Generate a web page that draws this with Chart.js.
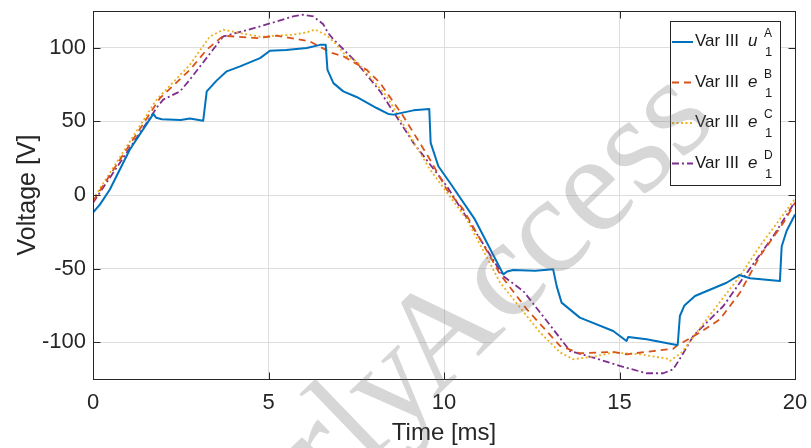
<!DOCTYPE html>
<html>
<head>
<meta charset="utf-8">
<script src="https://cdn.jsdelivr.net/npm/chart.js@4.4.0/dist/chart.umd.min.js"></script>
<style>
  html, body { margin: 0; padding: 0; background: #fff; }
  #wrap { position: relative; width: 811px; height: 448px; }
</style>
</head>
<body>
<div id="wrap"><canvas id="grafico" width="811" height="448"></canvas></div>
<script>
// valores (tempo em ms, tensão em V)
const tempoA = [0, 0.2, 0.48, 1.05, 1.72, 1.8, 1.96, 2.5, 2.76, 3.14, 3.24, 3.52, 3.81, 4.19, 4.76, 5.04, 5.5, 6.09, 6.47, 6.63, 6.68, 6.85, 7.13, 7.51, 8.08, 8.41, 8.56, 9.13, 9.58, 9.62, 9.84, 10.17, 10.88, 11.69, 11.8, 11.97, 12.6, 13.11, 13.21, 13.35, 13.87, 14.82, 15.2, 15.25, 15.77, 16.63, 16.66, 16.72, 16.85, 17.15, 18.05, 18.41, 18.72, 19.57, 19.62, 19.76, 20];
const tensaoA = [-12, -6.4, 3.7, 30.9, 55.1, 52.5, 51.5, 51, 51.9, 50.5, 70.4, 77.7, 84, 87.4, 93, 98, 98.5, 99.8, 102, 102, 85, 76, 70.4, 66.6, 59.1, 55.1, 54.6, 57.5, 58.5, 35.4, 19.5, 8.3, -16.6, -53.9, -52, -51, -51.5, -50.5, -61.9, -73.1, -83.3, -92.4, -99.2, -96.4, -98, -101.9, -101.4, -82.2, -75, -68.6, -59.6, -54.4, -56.6, -58.5, -35, -24.5, -13.2];

const tempoB = [0, 1.91, 2.76, 3.24, 3.71, 4.66, 5.23, 5.9, 6.18, 6.8, 7.13, 7.8, 8.18, 8.84, 9.6, 10.08, 10.55, 11.6, 12.36, 13.31, 13.87, 14.82, 15.2, 15.96, 16.53, 16.66, 17.29, 17.86, 18.43, 19, 19.67, 20];
const tensaoB = [-4.2, 65.9, 85, 98.7, 108.2, 106.6, 108.2, 105.5, 104.3, 96.5, 94.2, 85, 76.1, 53.5, 24.1, 3.7, -9.8, -53.9, -77.7, -102.6, -107.5, -106.6, -108.2, -106, -104.5, -102, -93.5, -84.5, -66.4, -41.5, -18.9, -5.3];

const tempoC = [0, 1.81, 2.76, 3.33, 3.71, 4.19, 4.76, 5.7, 6.1, 6.32, 6.66, 6.94, 7.22, 7.51, 8.37, 9.6, 10.65, 11.6, 12.74, 13.31, 13.68, 14.34, 14.82, 15.58, 16.34, 16.44, 16.77, 17.48, 18.43, 19, 19.95, 20];
const tensaoC = [-3, 64.8, 88.5, 107.7, 112.3, 110, 107.5, 108.9, 110.5, 112.5, 108.5, 102.1, 94.2, 90.8, 67, 17.3, -16.6, -59.6, -93.5, -107, -111.6, -109.4, -107, -108.2, -111.1, -112.7, -107, -84.5, -55.1, -34.7, -4.2, -2];

const tempoD = [0, 1.72, 1.81, 2.0, 2.48, 2.76, 3.71, 4.76, 5.7, 5.99, 6.28, 6.56, 6.7, 6.84, 7.51, 8.18, 9.13, 10.08, 10.65, 11.69, 12.26, 12.93, 13.59, 14.34, 15.01, 15.77, 16.25, 16.53, 16.77, 17.1, 17.96, 18.63, 19.38, 19.95, 20];
const tensaoD = [-5.3, 55.8, 59.2, 64.8, 70.4, 78.4, 107.7, 114.5, 121.3, 122.5, 121.3, 116, 110, 106, 90, 70.4, 35.4, 6, -15.5, -55.1, -65.3, -85.6, -106, -111.1, -116.1, -121.1, -121.1, -118.4, -109.4, -95.8, -75.4, -52.8, -28, -6.4, -5];

const ticksX = [0, 5, 10, 15, 20];
const ticksY = [-100, -50, 0, 50, 100];

const simbolos = ['u', 'e', 'e', 'e'];
const indicesSup = ['A', 'B', 'C', 'D'];
const prefixoLegenda = 'Var III';

const corEixo = '#262626';
const fonte = '"Liberation Sans", Arial, sans-serif';

const pontos = (ts, vs) => ts.map((t, i) => ({ x: t, y: vs[i] }));

Chart.defaults.font.family = fonte;
Chart.defaults.color = corEixo;

// moldura com ticks para dentro (estilo MATLAB)
const molduraPlugin = {
    id: 'moldura',
    afterDraw(chart) {
        const { ctx, chartArea: a, scales: { x, y } } = chart;
        const l = Math.round(a.left) + 0.5, r = Math.round(a.right) + 0.5;
        const t = Math.round(a.top) + 0.5, b = Math.round(a.bottom) + 0.5;
        ctx.save();
        ctx.strokeStyle = corEixo;
        ctx.lineWidth = 1;
        ctx.strokeRect(l, t, r - l, b - t);
        ctx.beginPath();
        ticksX.forEach(v => {
            const px = Math.round(x.getPixelForValue(v)) + 0.5;
            ctx.moveTo(px, b); ctx.lineTo(px, b - 7);
            ctx.moveTo(px, t); ctx.lineTo(px, t + 7);
        });
        ticksY.forEach(v => {
            const py = Math.round(y.getPixelForValue(v)) + 0.5;
            ctx.moveTo(l, py); ctx.lineTo(l + 7, py);
            ctx.moveTo(r, py); ctx.lineTo(r - 7, py);
        });
        ctx.stroke();
        ctx.restore();
    }
};

// legenda com sobrescrito/subscrito
const legendaPlugin = {
    id: 'legendaTex',
    afterDraw(chart) {
        const { ctx } = chart;
        const bx = 670.5, by = 21.5, bw = 110, bh = 164;
        ctx.save();
        ctx.fillStyle = '#fff';
        ctx.fillRect(bx, by, bw, bh);
        ctx.strokeStyle = corEixo;
        ctx.lineWidth = 1;
        ctx.strokeRect(bx, by, bw, bh);
        chart.data.datasets.forEach((ds, i) => {
            const ly = 42 + i * 40.5;
            ctx.beginPath();
            ctx.strokeStyle = ds.borderColor;
            ctx.lineWidth = ds.borderWidth;
            ctx.setLineDash(ds.borderDash || []);
            ctx.moveTo(672, ly);
            ctx.lineTo(693, ly);
            ctx.stroke();
            ctx.setLineDash([]);
            ctx.fillStyle = '#1a1a1a';
            ctx.textBaseline = 'alphabetic';
            ctx.textAlign = 'left';
            ctx.font = `17px ${fonte}`;
            ctx.fillText(prefixoLegenda, 695, ly + 4);
            ctx.font = `italic 17px ${fonte}`;
            ctx.fillText(simbolos[i], 748, ly + 4);
            ctx.font = `12px ${fonte}`;
            ctx.fillText(indicesSup[i], 764, ly - 5);
            ctx.font = `13px ${fonte}`;
            ctx.fillText('1', 765, ly + 14);
        });
        ctx.restore();
    }
};

// marca d'água
const marcaPlugin = {
    id: 'marca',
    afterDraw(chart) {
        const { ctx } = chart;
        ctx.save();
        ctx.font = '140px "Liberation Serif", "DejaVu Serif", serif';
        ctx.fillStyle = 'rgba(110,110,110,0.28)';
        const w2 = ctx.measureText('Access').width;
        ctx.translate(545, 228);
        ctx.rotate(-44 * Math.PI / 180);
        ctx.textBaseline = 'alphabetic';
        ctx.textAlign = 'left';
        ctx.fillText('Access', -w2 / 2, 46);
        ctx.textAlign = 'right';
        ctx.fillText('Early', -w2 / 2 + 12, 46);
        ctx.restore();
    }
};

new Chart('grafico', {
    type: 'line',
    data: {
        datasets: [
            { label: 'Var III u1A', data: pontos(tempoA, tensaoA), borderColor: '#0072BD', borderWidth: 2, borderDash: [] },
            { label: 'Var III e1B', data: pontos(tempoB, tensaoB), borderColor: '#D95319', borderWidth: 1.8, borderDash: [7, 5] },
            { label: 'Var III e1C', data: pontos(tempoC, tensaoC), borderColor: '#EDB120', borderWidth: 1.8, borderDash: [2, 2.5] },
            { label: 'Var III e1D', data: pontos(tempoD, tensaoD), borderColor: '#7E2F8E', borderWidth: 1.8, borderDash: [7, 3, 2, 3] }
        ]
    },
    options: {
        responsive: false,
        animation: false,
        devicePixelRatio: 1,
        events: [],
        layout: { padding: { left: 0, right: 16, top: 11, bottom: 0 } },
        elements: { point: { radius: 0 }, line: { tension: 0, fill: false, borderJoinStyle: 'round' } },
        plugins: { legend: { display: false }, tooltip: { enabled: false } },
        scales: {
            x: {
                type: 'linear', min: 0, max: 20,
                afterBuildTicks: s => { s.ticks = ticksX.map(v => ({ value: v })); },
                afterFit: s => { s.height = 69; s.paddingLeft = 0; s.paddingRight = 0; },
                ticks: { font: { size: 22 }, color: corEixo, padding: 11, maxRotation: 0 },
                grid: { color: '#dedede', drawTicks: false },
                border: { display: false },
                title: { display: true, text: 'Time [ms]', font: { size: 24 }, color: corEixo, padding: { top: 0, bottom: 0 } }
            },
            y: {
                type: 'linear', min: -125, max: 125,
                afterBuildTicks: s => { s.ticks = ticksY.map(v => ({ value: v })); },
                afterFit: s => { s.width = 93; s.paddingTop = 0; s.paddingBottom = 0; },
                ticks: { font: { size: 22 }, color: corEixo, padding: 7 },
                grid: { color: '#dedede', drawTicks: false },
                border: { display: false },
                title: { display: true, text: 'Voltage [V]', font: { size: 25 }, color: corEixo, padding: { top: 13, bottom: 0 } }
            }
        }
    },
    plugins: [molduraPlugin, legendaPlugin, marcaPlugin]
});
</script>
</body>
</html>
